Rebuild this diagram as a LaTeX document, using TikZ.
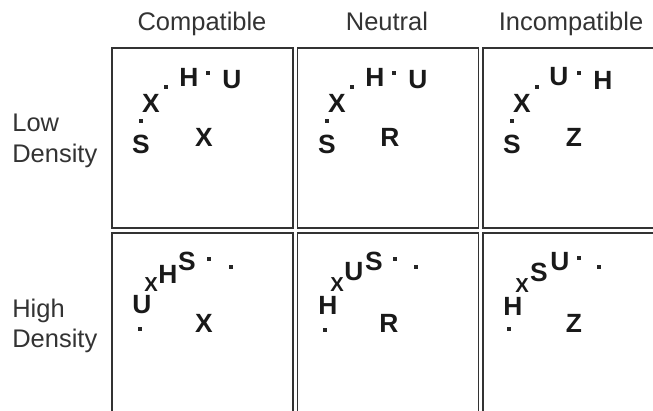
\documentclass[tikz,border=0pt]{standalone}
\usepackage{fontspec}
\setmainfont{Liberation Sans}

\begin{document}
\begin{tikzpicture}[
    x=0.02cm,
    y=-0.02cm,
    every node/.style={text=black!80},
    painel/.style={
        draw=black!80,
        line width=1.1pt,
        minimum width=3.62cm,
        minimum height=3.6cm,
        inner sep=0pt
    },
    titulo/.style={
        font=\fontsize{14.5}{17}\selectfont,
        anchor=base
    },
    rotulo/.style={
        font=\fontsize{14.5}{17.5}\selectfont,
        align=left,
        anchor=west,
        inner sep=0pt
    },
    letra/.style={
        font=\fontsize{15}{17}\selectfont\bfseries,
        text=black!90,
        inner sep=0pt
    },
    letrinha/.style={
        letra,
        font=\fontsize{11.5}{13}\selectfont\bfseries
    },
    ponto/.style={
        rectangle,
        fill=black!85,
        minimum size=2.3pt,
        inner sep=0pt
    }
]

\useasboundingbox (0,0) rectangle (653,411);

% ============================================================
% TÍTULOS
% ============================================================

\node[titulo] (tComp) at (202,31) {Compatible};
\node[titulo] (tNeut) at (387,31) {Neutral};
\node[titulo] (tIncomp) at (571,31) {Incompatible};

\node[rotulo] (tBaixa) at (12,141) {Low\\Density};
\node[rotulo] (tAlta) at (12,326) {High\\Density};

% ============================================================
% PAINÉIS
% ============================================================

\node[painel] (baixaComp) at (202.5,138) {};
\node[painel] (baixaNeut) at (388,138) {};
\node[painel] (baixaIncomp) at (573.5,138) {};

\node[painel] (altaComp) at (202.5,323) {};
\node[painel] (altaNeut) at (388,323) {};
\node[painel] (altaIncomp) at (573.5,323) {};

% ============================================================
% BAIXA DENSIDADE
% ============================================================

% Compatible
\begin{scope}[shift={(112,48)}]
\node[letra] (bc1) at (29,96) {S};
\node[ponto] (bc2) at (29,73) {};
\node[letra] (bc3) at (39,55) {X};
\node[ponto] (bc4) at (54,39) {};
\node[letra] (bc5) at (77,29) {H};
\node[ponto] (bc6) at (96,25) {};
\node[letra] (bc7) at (120,32) {U};
\node[letra] (bcc) at (92,89) {X};
\end{scope}

% Neutral
\begin{scope}[shift={(298,48)}]
\node[letra] (bn1) at (29,96) {S};
\node[ponto] (bn2) at (29,73) {};
\node[letra] (bn3) at (39,55) {X};
\node[ponto] (bn4) at (54,39) {};
\node[letra] (bn5) at (77,29) {H};
\node[ponto] (bn6) at (96,25) {};
\node[letra] (bn7) at (120,32) {U};
\node[letra] (bnc) at (92,89) {R};
\end{scope}

% Incompatible
\begin{scope}[shift={(483,48)}]
\node[letra] (bi1) at (29,96) {S};
\node[ponto] (bi2) at (29,73) {};
\node[letra] (bi3) at (39,55) {X};
\node[ponto] (bi4) at (54,39) {};
\node[letra] (bi5) at (76,29) {U};
\node[ponto] (bi6) at (96,25) {};
\node[letra] (bi7) at (120,32) {H};
\node[letra] (bic) at (91,89) {Z};
\end{scope}

% ============================================================
% ALTA DENSIDADE
% ============================================================

% Compatible
\begin{scope}[shift={(112,233)}]
\node[ponto] (ac1) at (28,96) {};
\node[letra] (ac2) at (30,72) {U};
\node[letrinha] (ac3) at (39,52) {X};
\node[letra] (ac4) at (56,41) {H};
\node[letra] (ac5) at (75,28) {S};
\node[ponto] (ac6) at (97,26) {};
\node[ponto] (ac7) at (119,34) {};
\node[letra] (acc) at (92,90) {X};
\end{scope}

% Neutral
\begin{scope}[shift={(298,233)}]
\node[ponto] (an1) at (27,97) {};
\node[letra] (an2) at (30,72) {H};
\node[letrinha] (an3) at (39,52) {X};
\node[letra] (an4) at (56,39) {U};
\node[letra] (an5) at (76,28) {S};
\node[ponto] (an6) at (97,26) {};
\node[ponto] (an7) at (118,34) {};
\node[letra] (anc) at (91,90) {R};
\end{scope}

% Incompatible
\begin{scope}[shift={(483,233)}]
\node[ponto] (ai1) at (26,96) {};
\node[letra] (ai2) at (30,73) {H};
\node[letrinha] (ai3) at (39,53) {X};
\node[letra] (ai4) at (56,39) {S};
\node[letra] (ai5) at (77,29) {U};
\node[ponto] (ai6) at (96,25) {};
\node[ponto] (ai7) at (116,34) {};
\node[letra] (aic) at (91,90) {Z};
\end{scope}

\end{tikzpicture}
\end{document}
